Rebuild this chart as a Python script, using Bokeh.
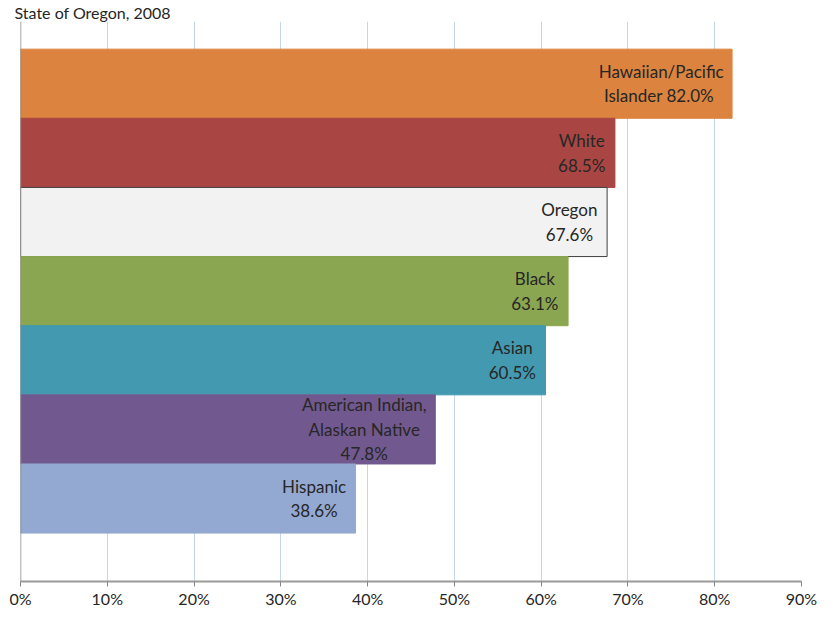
from bokeh.plotting import figure
from bokeh.models import ColumnDataSource, Span, FixedTicker
from bokeh.core.properties import value
from bokeh.embed import file_html
from bokeh.resources import INLINE

# ---- data ----
groups = ["Hawaiian/Pacific Islander", "White", "Oregon", "Black", "Asian",
          "American Indian, Alaskan Native", "Hispanic"]
rates = [82.0, 68.5, 67.6, 63.1, 60.5, 47.8, 38.6]
label_names = ["Hawaiian/Pacific\nIslander ", "White\n", "Oregon\n", "Black\n", "Asian\n",
               "American Indian,\nAlaskan Native\n", "Hispanic\n"]
tick_vals = [0, 10, 20, 30, 40, 50, 60, 70, 80, 90]
tick_labels = ["0%", "10%", "20%", "30%", "40%", "50%", "60%", "70%", "80%", "90%"]
title_text = "State of Oregon, 2008"

# ---- styles ----
fills = ["#dc843f", "#a94643", "#f2f2f2", "#8ba650", "#4299b0", "#71598f", "#94a9d1"]
lines = ["#dc843f", "#a94643", "#3f3f3f", "#8ba650", "#4299b0", "#71598f", "#94a9d1"]
FONT = "Lato"
FS = 16
LFS = 17

# approximate Lato glyph widths (em) for centering labels
W = {' ': .193, '.': .21, ',': .21, '/': .36, '%': .78, '-': .33}
for d in "0123456789":
    W[d] = .58
low = dict(a=.49, b=.55, c=.46, d=.55, e=.52, f=.32, g=.50, h=.55, i=.24, j=.24, k=.50,
           l=.24, m=.83, n=.55, o=.55, p=.55, q=.55, r=.36, s=.42, t=.35, u=.55, v=.50,
           w=.75, x=.49, y=.50, z=.45)
up = dict(A=.67, B=.63, C=.66, D=.74, E=.55, F=.53, G=.72, H=.74, I=.28, J=.37, K=.64,
          L=.49, M=.90, N=.74, O=.78, P=.60, Q=.78, R=.62, S=.52, T=.58, U=.72, V=.67,
          W=.98, X=.63, Y=.60, Z=.60)
W.update(low); W.update(up)

def text_w(s):
    return max(sum(W.get(c, .55) for c in line) for line in s.split("\n")) * LFS

n = len(groups)
ys = [n - i - 0.5 for i in range(n)]
labels = [f"{nm} {v:.1f}%" if nm.endswith(" ") else f"{nm}{v:.1f}%"
          for nm, v in zip(label_names, rates)]
offs = [-(10 + text_w(t) / 2) for t in labels]

src = ColumnDataSource(dict(y=ys, val=rates, fill=fills, line=lines,
                            label=labels, off=offs, name=groups))

p = figure(width=817, height=610, x_range=(0, 90), y_range=(-0.70, n + 0.40),
           output_backend="svg", toolbar_location=None,
           min_border_left=20, min_border_right=16, min_border_bottom=26, min_border_top=0)

p.hbar(y="y", left=0, right="val", height=1, fill_color="fill", line_color="line",
       line_width=1, source=src)

p.text(x="val", y="y", text="label", x_offset="off", source=src,
       text_align="center", text_baseline="middle", text_font=value(FONT),
       text_font_size=f"{LFS}px", text_color="#262626", text_line_height=1.17)

p.add_layout(Span(location=0, dimension="height", line_color="#868686", line_width=1.5))

p.title.text = title_text
p.title.text_font = FONT
p.title.text_font_size = f"{FS}px"
p.title.text_font_style = "normal"
p.title.text_color = "#262626"
p.title.align = "left"
p.title.offset = -6
p.title.standoff = 0

p.outline_line_color = None
p.background_fill_color = "white"
p.ygrid.visible = False
p.yaxis.visible = False
p.xgrid.grid_line_color = "#c5d5ea"
p.xgrid.grid_line_width = 1

ax = p.xaxis[0]
ax.ticker = FixedTicker(ticks=tick_vals)
ax.major_label_overrides = {v: l for v, l in zip(tick_vals, tick_labels)}
ax.axis_line_color = "#9a9a9a"
ax.axis_line_width = 2
ax.major_tick_line_color = "#868686"
ax.major_tick_out = 5
ax.major_tick_in = 0
ax.minor_tick_line_color = None
ax.major_label_standoff = 2
ax.major_label_text_font = FONT
ax.major_label_text_font_size = f"{FS}px"
ax.major_label_text_color = "#262626"

open("out.html", "w").write(file_html(p, INLINE))
